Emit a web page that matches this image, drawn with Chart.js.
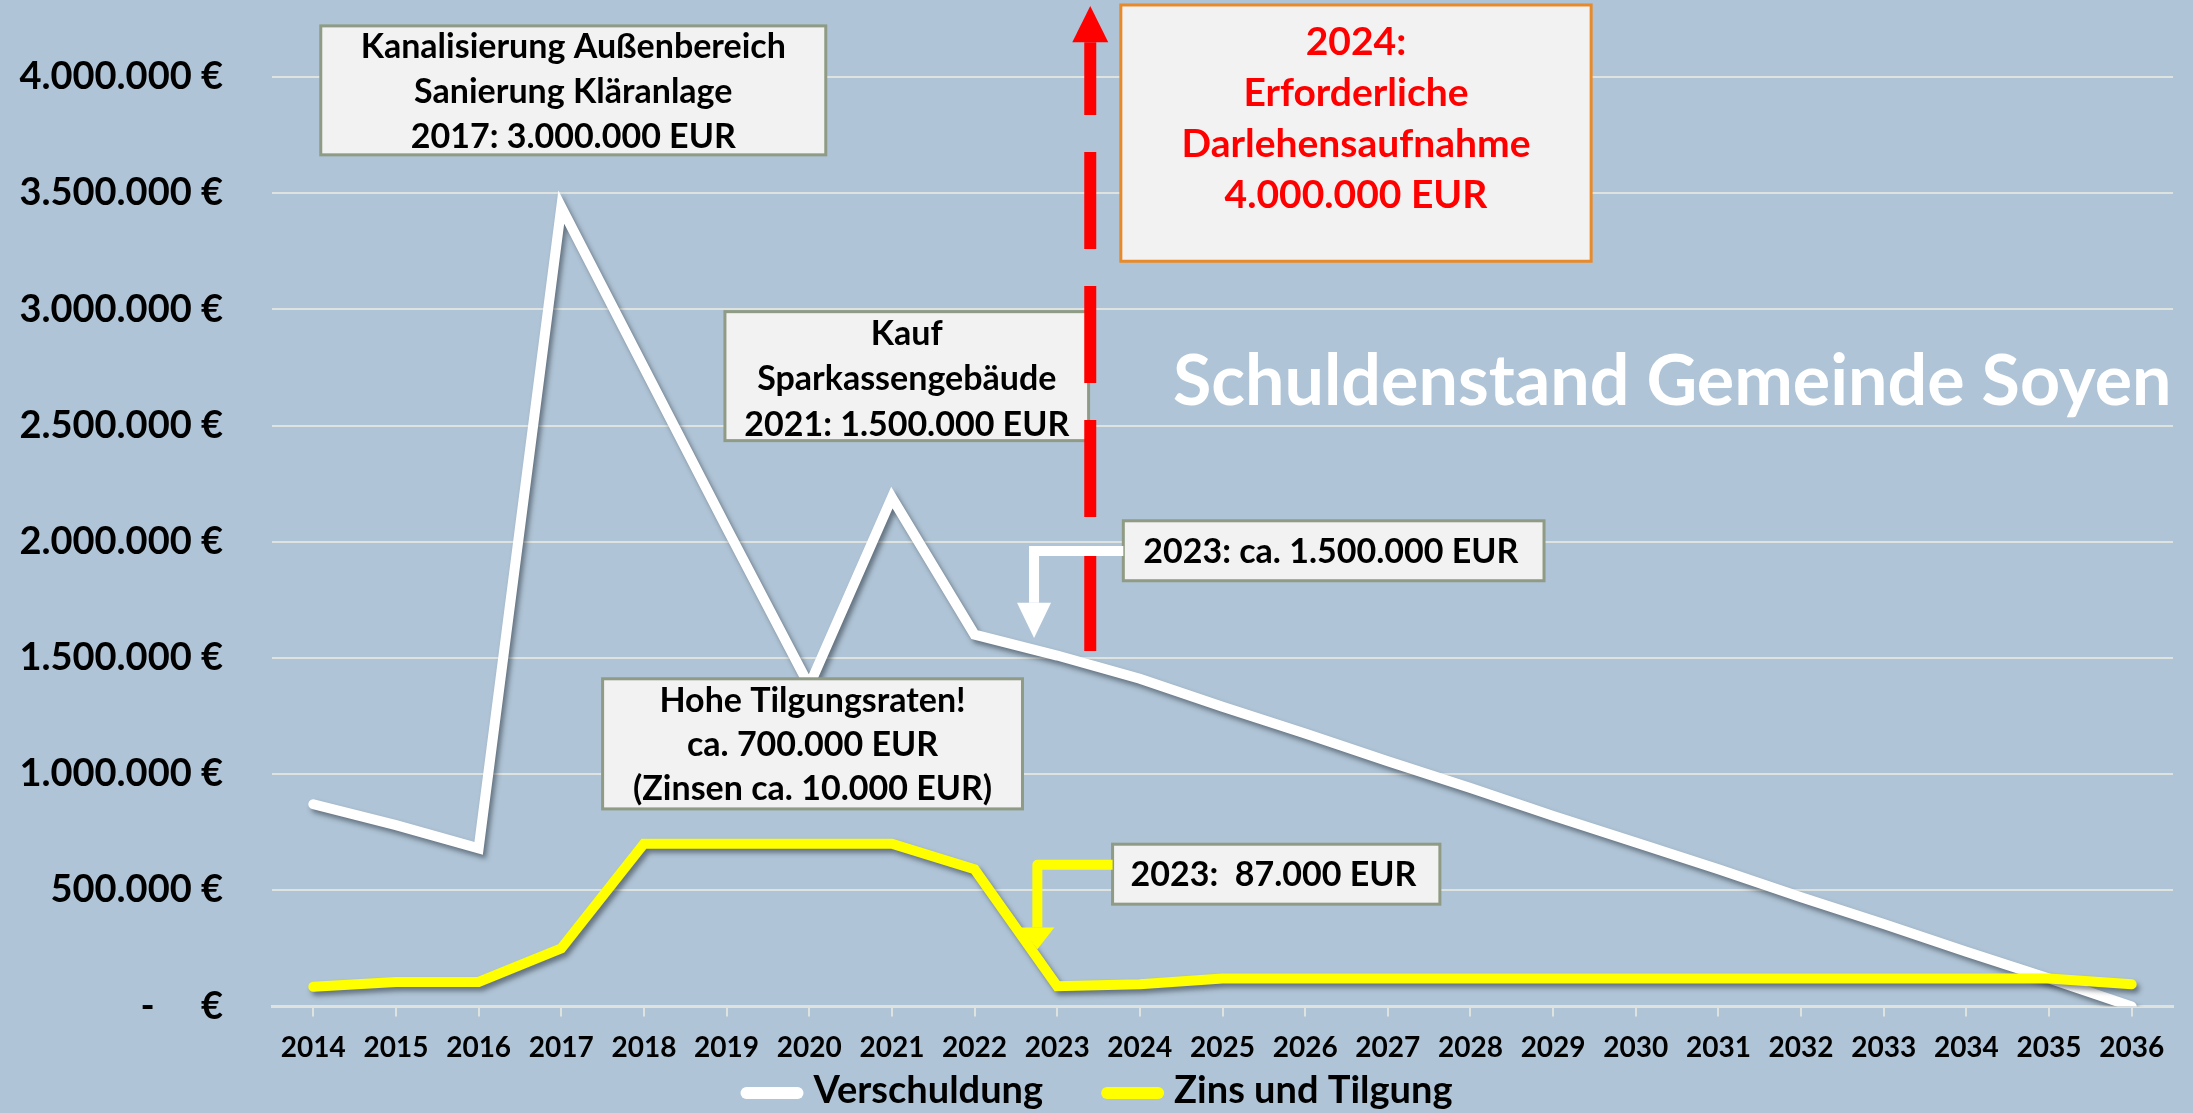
<!DOCTYPE html>
<html>
<head>
<meta charset="utf-8">
<script src="https://cdn.jsdelivr.net/npm/chart.js@4.4.1/dist/chart.umd.min.js"></script>
<style>
  html, body { margin: 0; padding: 0; background: #afc4d6; }
  #wrap { width: 2193px; height: 1113px; position: relative; }
</style>
</head>
<body>
<div id="wrap"><canvas id="chart"></canvas></div>
<script>
// Jahre
const jahre = ["2014", "2015", "2016", "2017", "2018", "2019", "2020", "2021", "2022", "2023", "2024", "2025",
  "2026", "2027", "2028", "2029", "2030", "2031", "2032", "2033", "2034", "2035", "2036"];

// Verschuldung (EUR)
const verschuldung = [870000, 780000, 680000, 3440000, 2750000, 2060000, 1380000, 2190000, 1600000, 1510000,
  1410000, 1290000, 1175000, 1055000, 940000, 820000, 705000, 590000, 470000, 355000, 235000, 120000, 0];

// Zins und Tilgung (EUR)
const zinsTilgung = [85000, 105000, 105000, 250000, 700000, 700000, 700000, 700000, 590000, 87000,
  95000, 120000, 120000, 120000, 120000, 120000, 120000, 120000, 120000, 120000, 120000, 120000, 95000];

const yMax = 4000000;
const yStep = 500000;

const gridFarbe = "#dfe3df";
const schrift = "Lato";

function euro(v) {
  if (v === 0) return "-     €";
  return String(v).replace(/\B(?=(\d{3})+(?!\d))/g, ".") + " €";
}

// Textfelder: x in Kategorien (0 = 2014), y in EUR
const kaesten = [
  { x1: 0.09, x2: 6.2, y1: 4220000, y2: 3665000, rand: "#8f9b84", farbe: "#000", size: 34, gap: 45, dy: 2,
    zeilen: ["Kanalisierung Außenbereich", "Sanierung Kläranlage", "2017: 3.000.000 EUR"] },
  { x1: 4.98, x2: 9.38, y1: 2990000, y2: 2435000, rand: "#8f9b84", farbe: "#000", size: 34, gap: 45.5, dy: 3,
    zeilen: ["Kauf", "Sparkassengebäude", "2021: 1.500.000 EUR"] },
  { x1: 3.5, x2: 8.58, y1: 1410000, y2: 850000, rand: "#8f9b84", farbe: "#000", size: 34, gap: 44, dy: 1,
    zeilen: ["Hohe Tilgungsraten!", "ca. 700.000 EUR", "(Zinsen ca. 10.000 EUR)"] },
  { x1: 9.77, x2: 15.46, y1: 4310000, y2: 3207000, rand: "#e8892a", farbe: "#ff0000", size: 39, gap: 51, dy: -14,
    zeilen: ["2024:", "Erforderliche", "Darlehensaufnahme", "4.000.000 EUR"] },
  { x1: 9.8, x2: 14.89, y1: 2090000, y2: 1832000, rand: "#8f9b84", farbe: "#000", size: 34, gap: 0, dy: 1, links: 20,
    zeilen: ["2023: ca. 1.500.000 EUR"] },
  { x1: 9.67, x2: 13.63, y1: 698000, y2: 440000, rand: "#8f9b84", farbe: "#000", size: 34, gap: 0, dy: 1, links: 18,
    zeilen: ["2023:  87.000 EUR"] },
];

// Pfeile (Knickpfeile zum Datenpunkt)
const pfeile = [
  { farbe: "#ffffff", xStart: 9.8, yStart: 1960000, xKnick: 8.72, ySpitze: 1586000, yKopf: 1737000 },
  { farbe: "#ffff00", xStart: 9.67, yStart: 610000, xKnick: 8.76, ySpitze: 246000, yKopf: 340000 },
];

const schatten = {
  id: "schatten",
  beforeDatasetDraw(chart) {
    const ctx = chart.ctx;
    ctx.save();
    ctx.shadowColor = "rgba(40,50,60,0.55)";
    ctx.shadowBlur = 5;
    ctx.shadowOffsetX = 3;
    ctx.shadowOffsetY = 4;
  },
  afterDatasetDraw(chart) {
    chart.ctx.restore();
  },
};

const notizen = {
  id: "notizen",
  afterDatasetsDraw(chart) {
    const ctx = chart.ctx;
    const xs = chart.scales.x, ys = chart.scales.y;
    const px = (i) => xs.getPixelForValue(0) + i * (xs.getPixelForValue(1) - xs.getPixelForValue(0));
    const py = (v) => ys.getPixelForValue(v);

    ctx.save();
    // Kästen
    kaesten.forEach((k) => {
      const x1 = px(k.x1), x2 = px(k.x2), y1 = py(k.y1), y2 = py(k.y2);
      ctx.fillStyle = "#f2f2f2";
      ctx.fillRect(x1, y1, x2 - x1, y2 - y1);
      ctx.lineWidth = 3;
      ctx.strokeStyle = k.rand;
      ctx.strokeRect(x1, y1, x2 - x1, y2 - y1);
      ctx.fillStyle = k.farbe;
      ctx.font = "bold " + k.size + "px " + schrift;
      ctx.textBaseline = "middle";
      const mitte = (y1 + y2) / 2 + k.dy;
      const start = mitte - (k.zeilen.length - 1) * k.gap / 2;
      k.zeilen.forEach((z, n) => {
        if (k.links !== undefined) {
          ctx.textAlign = "left";
          ctx.fillText(z, x1 + k.links, start + n * k.gap);
        } else {
          ctx.textAlign = "center";
          ctx.fillText(z, (x1 + x2) / 2, start + n * k.gap);
        }
      });
    });

    // roter gestrichelter Pfeil
    const rx = px(9.4);
    const rUnten = py(1530000), rKopf = py(4150000), rSpitze = py(4306000);
    ctx.strokeStyle = "#ff0000";
    ctx.lineWidth = 12;
    ctx.setLineDash([97, 37]);
    ctx.beginPath();
    ctx.moveTo(rx, rUnten);
    ctx.lineTo(rx, rKopf);
    ctx.stroke();
    ctx.setLineDash([]);
    ctx.fillStyle = "#ff0000";
    ctx.beginPath();
    ctx.moveTo(rx - 18, rKopf);
    ctx.lineTo(rx + 18, rKopf);
    ctx.lineTo(rx, rSpitze);
    ctx.closePath();
    ctx.fill();

    // Knickpfeile
    pfeile.forEach((p) => {
      const xa = px(p.xStart), ya = py(p.yStart), xk = px(p.xKnick);
      const yk = py(p.yKopf), ysp = py(p.ySpitze);
      ctx.strokeStyle = p.farbe;
      ctx.fillStyle = p.farbe;
      ctx.lineWidth = 10;
      ctx.lineJoin = p.farbe === "#ffffff" ? "miter" : "round";
      ctx.beginPath();
      ctx.moveTo(xa, ya);
      ctx.lineTo(xk, ya);
      ctx.lineTo(xk, yk);
      ctx.stroke();
      ctx.beginPath();
      ctx.moveTo(xk - 17, yk);
      ctx.lineTo(xk + 17, yk);
      ctx.lineTo(xk, ysp);
      ctx.closePath();
      ctx.fill();
    });

    // Titel
    ctx.fillStyle = "#ffffff";
    ctx.textAlign = "left";
    ctx.textBaseline = "alphabetic";
    const titel = "Schuldenstand Gemeinde Soyen";
    ctx.font = "bold 66px " + schrift;
    const w = ctx.measureText(titel).width;
    const groesse = Math.round(66 * 993 / w);
    ctx.font = "bold " + groesse + "px " + schrift;
    ctx.fillText(titel, px(10.4), py(2590000));
    ctx.restore();
  },
  afterDraw(chart) {
    // Legende unten mittig
    const ctx = chart.ctx;
    const eintraege = chart.data.datasets.map((d) => ({ text: d.label, farbe: d.borderColor }));
    const probe = 63, abstand = 10, luecke = 58;
    ctx.save();
    ctx.font = "bold 38px " + schrift;
    let gesamt = 0;
    eintraege.forEach((e, n) => {
      e.breite = ctx.measureText(e.text).width;
      gesamt += probe + abstand + e.breite + (n > 0 ? luecke : 0);
    });
    let x = chart.width / 2 - gesamt / 2;
    const y = 1091;
    eintraege.forEach((e) => {
      ctx.strokeStyle = e.farbe;
      ctx.lineWidth = 12;
      ctx.lineCap = "round";
      ctx.beginPath();
      ctx.moveTo(x + 6, y + 2);
      ctx.lineTo(x + probe - 6, y + 2);
      ctx.stroke();
      ctx.fillStyle = "#000";
      ctx.textAlign = "left";
      ctx.textBaseline = "middle";
      ctx.fillText(e.text, x + probe + abstand, y);
      x += probe + abstand + e.breite + luecke;
    });
    ctx.restore();
  },
};

new Chart(document.getElementById("chart"), {
  type: "line",
  data: {
    labels: jahre,
    datasets: [
      {
        label: "Verschuldung",
        data: verschuldung,
        borderColor: "#ffffff",
        backgroundColor: "#ffffff",
        borderWidth: 10,
        borderCapStyle: "round",
        borderJoinStyle: "miter",
        pointRadius: 0,
        tension: 0,
        order: 1,
      },
      {
        label: "Zins und Tilgung",
        data: zinsTilgung,
        borderColor: "#ffff00",
        backgroundColor: "#ffff00",
        borderWidth: 10,
        borderCapStyle: "round",
        borderJoinStyle: "miter",
        pointRadius: 0,
        tension: 0,
        order: 0,
      },
    ],
  },
  options: {
    responsive: true,
    maintainAspectRatio: false,
    animation: false,
    layout: { padding: { top: 77, right: 20, bottom: 33, left: 0 } },
    scales: {
      x: {
        offset: true,
        grid: { drawOnChartArea: false, drawTicks: true, tickLength: 10, color: gridFarbe, lineWidth: 2 },
        border: { display: true, color: gridFarbe, width: 3 },
        ticks: { color: "#000", font: { family: schrift, size: 28, weight: "bold" }, padding: 15, maxRotation: 0, autoSkip: false },
      },
      y: {
        min: 0,
        max: yMax,
        grid: { color: gridFarbe, lineWidth: 2, drawTicks: false },
        border: { display: false },
        ticks: {
          stepSize: yStep,
          color: "#000",
          font: { family: schrift, size: 38, weight: "bold" },
          padding: 49,
          callback: (v) => euro(v),
        },
        afterFit(scale) { scale.width = 272; },
      },
    },
    plugins: {
      tooltip: { enabled: false },
      legend: { display: false },
    },
  },
  plugins: [schatten, notizen],
});
</script>
</body>
</html>
